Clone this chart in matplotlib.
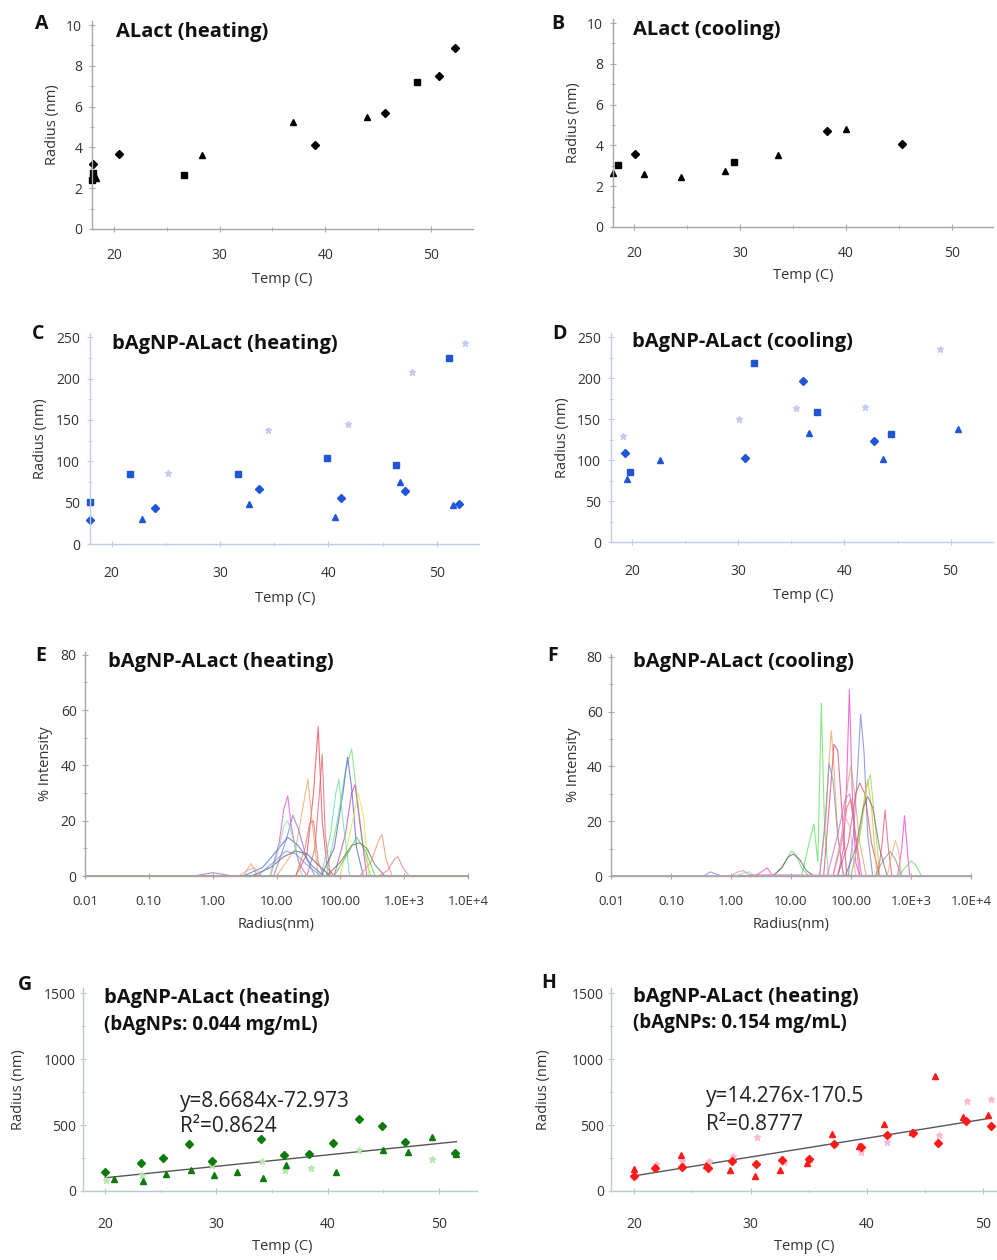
import numpy as np
import matplotlib.pyplot as plt
from matplotlib.ticker import MultipleLocator, FixedLocator, NullLocator

W, H = 997, 1260
plt.rcParams['font.family'] = ['Open Sans', 'DejaVu Sans']

# ---- A: ALact heating (nm vs temp)
A_dia_x = [17.95, 20.5, 39.0, 45.7, 50.8, 52.3]
A_dia_y = [3.18, 3.69, 4.13, 5.68, 7.50, 8.89]
A_sq_x = [17.95, 17.9, 26.65, 48.7]
A_sq_y = [2.77, 2.41, 2.63, 7.19]
A_tri_x = [18.3, 28.3, 36.9, 44.0]
A_tri_y = [2.5, 3.64, 5.24, 5.51]

# ---- B: ALact cooling
B_dia_x = [20.05, 38.2, 45.3]
B_dia_y = [3.56, 4.70, 4.07]
B_sq_x = [18.5, 29.4]
B_sq_y = [3.02, 3.18]
B_tri_x = [18.0, 20.9, 24.4, 28.6, 33.6, 40.0]
B_tri_y = [2.67, 2.59, 2.44, 2.75, 3.51, 4.82]

# ---- C: bAgNP-ALact heating
C_sq_x = [18.0, 21.7, 31.7, 39.9, 46.2, 51.1]
C_sq_y = [51, 84, 84, 104, 96, 225]
C_dia_x = [18.0, 24.0, 33.6, 41.2, 47.1, 52.1]
C_dia_y = [29, 43, 66, 56, 64, 48]
C_tri_x = [22.8, 32.7, 40.6, 46.6, 51.5]
C_tri_y = [30, 48, 33, 75, 47]
C_lt_x = [25.2, 34.4, 41.8, 47.7, 52.6]
C_lt_y = [86, 138, 145, 208, 243]

# ---- D: bAgNP-ALact cooling
D_dia_x = [19.3, 30.6, 36.1, 42.8]
D_dia_y = [108, 103, 196, 123]
D_sq_x = [19.8, 31.5, 37.4, 44.4]
D_sq_y = [86, 219, 159, 132]
D_tri_x = [19.5, 22.6, 36.7, 43.6, 50.7]
D_tri_y = [77, 100, 133, 101, 138]
D_lt_x = [19.15, 30.1, 35.4, 41.9, 49.0]
D_lt_y = [129, 150, 164, 165, 235]

# ---- E: size distributions, heating (radius nm, % intensity, colour)
E_curves = [
    ([0.01, 20, 30, 38, 45, 52, 62, 80, 1e4], [0, 0, 8, 30, 54, 20, 3, 0, 0], '#f04050'),
    ([0.01, 30, 40, 47, 52, 58, 70, 1e4], [0, 0, 10, 30, 44, 15, 0, 0], '#e06070'),
    ([0.01, 3, 4, 5, 10, 20, 26, 31, 36, 45, 1e4], [0, 0, 4.5, 0, 0, 10, 25, 35, 20, 0, 0], '#f0a060'),
    ([0.01, 8, 11, 13, 15, 17, 22, 30, 1e4], [0, 0, 12, 24, 29, 18, 5, 0, 0], '#e050e0'),
    ([0.01, 9, 12, 15, 18, 22, 30, 40, 1e4], [0, 0, 8, 15, 22, 17, 6, 0, 0], '#9070e0'),
    ([0.01, 60, 90, 120, 150, 180, 230, 300, 1e4], [0, 0, 20, 38, 46, 30, 10, 0, 0], '#70e070'),
    ([0.01, 50, 80, 110, 130, 150, 180, 230, 1e4], [0, 0, 10, 30, 43, 32, 10, 0, 0], '#5060e0'),
    ([0.01, 80, 120, 150, 170, 200, 260, 1e4], [0, 0, 15, 30, 33, 20, 0, 0], '#d040b0'),
    ([0.01, 100, 150, 190, 230, 280, 1e4], [0, 0, 18, 30, 22, 0, 0], '#e8e040'),
    ([0.01, 50, 70, 85, 95, 110, 140, 1e4], [0, 0, 15, 30, 35, 20, 0, 0], '#60e0b0'),
    ([0.01, 3, 6, 10, 15, 22, 35, 55, 80, 1e4], [0, 0, 3, 9, 14, 11, 4, 0, 0, 0], '#4070d0'),
    ([0.01, 4, 8, 13, 20, 30, 45, 70, 1e4], [0, 0, 3, 7, 9, 8, 4, 0, 0], '#506070'),
    ([0.01, 60, 100, 150, 200, 260, 350, 500, 1e4], [0, 0, 5, 11, 12, 10, 4, 0, 0], '#607060'),
    ([0.01, 200, 300, 400, 450, 520, 650, 1e4], [0, 0, 5, 13, 15, 6, 0, 0], '#f09060'),
    ([0.01, 400, 550, 700, 800, 950, 1200, 1e4], [0, 0, 2, 6, 7, 3, 0, 0], '#f07090'),
    ([0.01, 0.5, 0.8, 1.0, 1.3, 2, 1e4], [0, 0, 0.8, 1.2, 0.8, 0, 0], '#a060d0'),
    ([0.01, 8, 11, 13, 15, 19, 25, 1e4], [0, 0, 10, 18, 20, 12, 0, 0], '#80e0a0'),
    ([0.01, 20, 28, 33, 38, 45, 55, 1e4], [0, 0, 10, 19, 20, 5, 0, 0], '#e07070'),
    ([0.01, 5, 9, 14, 20, 30, 50, 1e4], [0, 0, 5, 9, 8, 4, 0, 0], '#7090f0'),
    ([0.01, 80, 130, 180, 250, 350, 1e4], [0, 0, 8, 14, 9, 0, 0], '#50c050'),
    ([0.01, 2.5, 3.5, 4.5, 6, 1e4], [0, 0, 2, 3, 0, 0], '#f0a0a0'),
]

# ---- F: size distributions, cooling
F_curves = [
    ([0.01, 15, 20, 24, 28, 32, 36, 42, 1e4], [0, 0, 12, 19, 5, 63, 20, 0, 0], '#60e060'),
    ([0.01, 60, 75, 85, 94, 105, 120, 140, 1e4], [0, 0, 10, 35, 68, 30, 5, 0, 0], '#f040c0'),
    ([0.01, 90, 110, 130, 145, 165, 190, 230, 1e4], [0, 0, 15, 40, 59, 45, 15, 0, 0], '#7080e0'),
    ([0.01, 30, 38, 43, 47, 52, 60, 75, 1e4], [0, 0, 20, 42, 53, 40, 15, 0, 0], '#f0a050'),
    ([0.01, 35, 45, 52, 60, 70, 85, 1e4], [0, 0, 30, 48, 46, 25, 0, 0], '#e04080'),
    ([0.01, 30, 37, 43, 50, 60, 75, 1e4], [0, 0, 20, 41, 35, 15, 0, 0], '#8090c0'),
    ([0.01, 50, 70, 90, 100, 115, 140, 180, 1e4], [0, 0, 15, 35, 40, 30, 12, 0, 0], '#d0a070'),
    ([0.01, 60, 90, 120, 140, 170, 220, 300, 1e4], [0, 0, 12, 30, 34, 30, 12, 0, 0], '#e05050'),
    ([0.01, 100, 140, 170, 190, 220, 270, 1e4], [0, 0, 15, 30, 35, 25, 0, 0], '#f0b040'),
    ([0.01, 100, 150, 180, 210, 250, 300, 1e4], [0, 0, 18, 32, 37, 20, 0, 0], '#90e050'),
    ([0.01, 80, 120, 160, 190, 230, 300, 400, 1e4], [0, 0, 10, 25, 29, 25, 10, 0, 0], '#707070'),
    ([0.01, 40, 60, 80, 95, 110, 140, 1e4], [0, 0, 15, 28, 30, 20, 0, 0], '#e060e0'),
    ([0.01, 50, 70, 85, 100, 120, 150, 1e4], [0, 0, 12, 25, 28, 15, 0, 0], '#f06060'),
    ([0.01, 5, 7, 9, 10, 12, 15, 20, 1e4], [0, 0, 3, 7, 9, 8, 3, 0, 0], '#70d070'),
    ([0.01, 5, 7, 9, 11, 14, 18, 24, 1e4], [0, 0, 3, 7, 8, 6, 2, 0, 0], '#606060'),
    ([0.01, 600, 700, 780, 850, 950, 1e4], [0, 0, 10, 22, 12, 0, 0], '#f040d0'),
    ([0.01, 280, 330, 370, 420, 480, 1e4], [0, 0, 12, 24, 10, 0, 0], '#f05070'),
    ([0.01, 400, 480, 550, 620, 700, 1e4], [0, 0, 8, 13, 9, 0, 0], '#f0b070'),
    ([0.01, 600, 800, 1000, 1200, 1500, 1e4], [0, 0, 3, 5.5, 4, 0, 0], '#60e060'),
    ([0.01, 250, 350, 450, 550, 700, 1e4], [0, 0, 6, 9, 6, 0, 0], '#909090'),
    ([0.01, 2.5, 3.5, 4, 5, 1e4], [0, 0, 2, 3, 0, 0], '#e050d0'),
    ([0.01, 1.0, 1.3, 1.6, 2.0, 1e4], [0, 0, 1.5, 2, 0.5, 0], '#f080c0'),
    ([0.01, 0.35, 0.45, 0.55, 0.7, 1e4], [0, 0, 1.5, 0.8, 0, 0], '#7080f0'),
    ([0.01, 1.2, 1.6, 2, 2.5, 1e4], [0, 0, 1, 1.5, 0, 0], '#80e080'),
    ([0.01, 50, 65, 80, 95, 120, 1e4], [0, 0, 10, 22, 18, 0, 0], '#f0a0e0'),
]
E_ticks = [0.01, 0.1, 1, 10, 100, 1e3, 1e4]
E_ticklabels = ['0.01', '0.10', '1.00', '10.00', '100.00', '1.0E+3', '1.0E+4']

# ---- G: bAgNP-ALact heating, 0.044 mg/mL
G_dia_x = [20.0, 23.2, 25.2, 27.5, 29.6, 34.0, 36.1, 38.3, 40.5, 42.8, 44.9, 47.0, 51.5]
G_dia_y = [142, 213, 251, 359, 225, 397, 271, 278, 362, 544, 496, 372, 286]
G_tri_x = [20.75, 23.4, 25.5, 27.7, 29.8, 31.9, 34.2, 36.3, 40.8, 45.0, 47.2, 49.4, 51.6]
G_tri_y = [91, 73, 127, 162, 119, 144, 96, 195, 144, 311, 299, 408, 278]
G_lt_x = [20.05, 23.3, 29.6, 34.1, 36.2, 38.5, 42.8, 49.4]
G_lt_y = [86, 122, 195, 230, 157, 175, 309, 240]
G_fit = (8.6684, -72.973)

# ---- H: bAgNP-ALact heating, 0.154 mg/mL
H_dia_x = [20.0, 21.75, 24.1, 26.3, 28.4, 30.5, 32.7, 35.0, 37.2, 39.5, 41.7, 44.0, 46.1, 48.5, 50.7]
H_dia_y = [111, 172, 182, 177, 230, 205, 238, 243, 359, 334, 425, 443, 365, 532, 494]
H_tri_x = [20.0, 24.0, 26.2, 28.2, 30.4, 32.5, 34.9, 37.0, 39.3, 41.5, 43.9, 45.9, 48.3, 50.4]
H_tri_y = [165, 271, 195, 157, 116, 162, 213, 435, 342, 511, 446, 876, 562, 575]
H_lt_x = [21.9, 24.1, 26.4, 28.5, 30.6, 32.9, 35.1, 39.5, 41.7, 46.2, 48.6, 50.7]
H_lt_y = [208, 228, 228, 266, 410, 220, 245, 294, 372, 425, 684, 701]
H_fit = (14.276, -170.5)

fig = plt.figure(figsize=(W / 100, H / 100), dpi=100)


def make_ax(l, t, r, b):
    return fig.add_axes([l / W, 1 - b / H, (r - l) / W, (b - t) / H])


def style(ax, col, xpad, ypad):
    for s in ['top', 'right']:
        ax.spines[s].set_visible(False)
    for s in ['left', 'bottom']:
        ax.spines[s].set_color(col)
        ax.spines[s].set_linewidth(1.0)
    ax.tick_params(which='both', colors=col, labelcolor='#333333', labelsize=10,
                   direction='inout')
    ax.tick_params(which='major', length=4)
    ax.tick_params(which='minor', length=3)
    ax.tick_params(axis='x', pad=xpad)
    ax.tick_params(axis='y', pad=ypad)
    ax.patch.set_alpha(0)


def labels(ax, xl, xl_y, yl, yl_x, xl_x=None):
    # xl_y / yl_x are the pixel centres of the axis labels
    ax.set_xlabel(xl, fontsize=10.5, color='#333333')
    ax.set_ylabel(yl, fontsize=10.5, color='#333333')
    pos = ax.get_position()
    if xl_x is None:
        xl_x = (pos.x0 + pos.x1) / 2 * W
    ax.xaxis.set_label_coords(xl_x / W, 1 - (xl_y - 8) / H, transform=fig.transFigure)
    ax.yaxis.set_label_coords((yl_x + 8) / W, (pos.y0 + pos.y1) / 2, transform=fig.transFigure)


def ftext(x, y, s, **kw):
    fig.text(x / W, 1 - y / H, s, va='center', **kw)


def temp_axis(ax):
    ax.xaxis.set_major_locator(MultipleLocator(10))
    ax.xaxis.set_minor_locator(MultipleLocator(5))


mk = dict(linestyle='none', clip_on=False)

# ---------- A
ax = make_ax(92, 21, 473, 229)
ax.plot(A_dia_x, A_dia_y, 'D', color='black', ms=4.5, **mk)
ax.plot(A_sq_x, A_sq_y, 's', color='black', ms=4.5, **mk)
ax.plot(A_tri_x, A_tri_y, '^', color='black', ms=4.5, **mk)
ax.set_xlim(17.9, 54)
ax.set_ylim(0, 10.2)
temp_axis(ax)
ax.yaxis.set_major_locator(MultipleLocator(2))
ax.yaxis.set_minor_locator(MultipleLocator(1))
style(ax, '#a8a8a8', 12, 5)
labels(ax, 'Temp (C)', 280, 'Radius (nm)', 52, xl_x=282)

# ---------- B
ax = make_ax(613, 19, 993, 227)
ax.plot(B_dia_x, B_dia_y, 'D', color='black', ms=4.5, **mk)
ax.plot(B_sq_x, B_sq_y, 's', color='black', ms=4.5, **mk)
ax.plot(B_tri_x, B_tri_y, '^', color='black', ms=4.5, **mk)
ax.set_xlim(18.0, 53.9)
ax.set_ylim(0, 10.2)
temp_axis(ax)
ax.yaxis.set_major_locator(MultipleLocator(2))
ax.yaxis.set_minor_locator(MultipleLocator(1))
style(ax, '#a8a8a8', 12, 5)
labels(ax, 'Temp (C)', 276, 'Radius (nm)', 573, xl_x=803)

blue = '#1f55d6'
light_blue = '#c4c8f4'
# ---------- C
ax = make_ax(90, 333, 479, 544)
ax.plot(C_sq_x, C_sq_y, 's', color=blue, ms=4.5, **mk)
ax.plot(C_dia_x, C_dia_y, 'D', color=blue, ms=4.5, **mk)
ax.plot(C_tri_x, C_tri_y, '^', color=blue, ms=4.5, **mk)
ax.plot(C_lt_x, C_lt_y, '*', color=light_blue, ms=5, **mk)
ax.set_xlim(18.0, 53.9)
ax.set_ylim(0, 255)
temp_axis(ax)
ax.yaxis.set_major_locator(MultipleLocator(50))
ax.yaxis.set_minor_locator(MultipleLocator(25))
style(ax, '#c0cce8', 14, 5)
labels(ax, 'Temp (C)', 599, 'Radius (nm)', 40, xl_x=285)

# ---------- D
ax = make_ax(611, 333, 993, 542)
ax.plot(D_dia_x, D_dia_y, 'D', color=blue, ms=4.5, **mk)
ax.plot(D_sq_x, D_sq_y, 's', color=blue, ms=4.5, **mk)
ax.plot(D_tri_x, D_tri_y, '^', color=blue, ms=4.5, **mk)
ax.plot(D_lt_x, D_lt_y, '*', color=light_blue, ms=5, **mk)
ax.set_xlim(18.0, 54.0)
ax.set_ylim(0, 255)
temp_axis(ax)
ax.yaxis.set_major_locator(MultipleLocator(50))
ax.yaxis.set_minor_locator(MultipleLocator(25))
style(ax, '#c0cce8', 14, 5)
labels(ax, 'Temp (C)', 596, 'Radius (nm)', 562, xl_x=803)


def dist_panel(box, curves, ylx, xlx):
    ax = make_ax(*box)
    for xs, ys, c in curves:
        ax.plot(xs, ys, color=c, lw=0.8, alpha=0.75)
    ax.set_xscale('log')
    ax.set_xlim(0.01, 1e4)
    ax.set_ylim(0, 81)
    ax.xaxis.set_major_locator(FixedLocator(E_ticks))
    ax.xaxis.set_minor_locator(NullLocator())
    ax.set_xticklabels(E_ticklabels)
    ax.yaxis.set_major_locator(MultipleLocator(20))
    ax.yaxis.set_minor_locator(MultipleLocator(10))
    style(ax, '#a8a8a8', 12, 4)
    ax.tick_params(axis='x', labelsize=9.5)
    labels(ax, 'Radius(nm)', 925, '% Intensity', ylx, xl_x=xlx)
    return ax


dist_panel((85, 652, 468, 876), E_curves, 45, 276)
dist_panel((611, 654, 971, 876), F_curves, 573, 791)


def fit_panel(box, dx, dy, tx, ty, lx, ly, fit, dcol, lcol, xmax, ylx, xlx):
    ax = make_ax(*box)
    xs = np.array([min(dx + tx), max(dx + tx)])
    ax.plot(xs, fit[0] * xs + fit[1], color='#555555', lw=1.0, zorder=1)
    ax.plot(lx, ly, '*', color=lcol, ms=5, **mk)
    ax.plot(dx, dy, 'D', color=dcol, ms=4.5, **mk)
    ax.plot(tx, ty, '^', color=dcol, ms=4.5, **mk)
    ax.set_xlim(18.0, xmax)
    ax.set_ylim(0, 1540)
    temp_axis(ax)
    ax.yaxis.set_major_locator(MultipleLocator(500))
    ax.yaxis.set_minor_locator(MultipleLocator(250))
    style(ax, '#b8c8d0', 17, 3)
    labels(ax, 'Temp (C)', 1247, 'Radius (nm)', ylx, xl_x=xlx)
    return ax


ax = fit_panel((83, 988, 477, 1191), G_dia_x, G_dia_y, G_tri_x, G_tri_y, G_lt_x, G_lt_y,
               G_fit, '#0d7a0d', '#b8e4b0', 53.45, 18, 282)
ax.text(26.7, 676, 'y=8.6684x-72.973', fontsize=15, va='center', color='#222222')
ax.text(26.7, 490, 'R²=0.8624', fontsize=15, va='center', color='#222222')

ax = fit_panel((611, 988, 997, 1191), H_dia_x, H_dia_y, H_tri_x, H_tri_y, H_lt_x, H_lt_y,
               H_fit, '#ff1a1a', '#ffb8d0', 51.2, 543, 804)
ax.text(26.2, 719, 'y=14.276x-170.5', fontsize=15, va='center', color='#222222')
ax.text(26.2, 506, 'R²=0.8777', fontsize=15, va='center', color='#222222')

# panel titles and letters
tkw = dict(fontsize=14.5, fontweight='bold', color='#111111')
skw = dict(fontsize=13.5, fontweight='bold', color='#111111')
ftext(116, 32, 'ALact (heating)', **tkw)
ftext(633, 30, 'ALact (cooling)', **tkw)
ftext(112, 344, 'bAgNP-ALact (heating)', **tkw)
ftext(632, 342, 'bAgNP-ALact (cooling)', **tkw)
ftext(108, 662, 'bAgNP-ALact (heating)', **tkw)
ftext(633, 662, 'bAgNP-ALact (cooling)', **tkw)
ftext(104, 998, 'bAgNP-ALact (heating)', **tkw)
ftext(104, 1025, '(bAgNPs: 0.044 mg/mL)', **skw)
ftext(633, 997, 'bAgNP-ALact (heating)', **tkw)
ftext(633, 1023, '(bAgNPs: 0.154 mg/mL)', **skw)

lkw = dict(fontsize=14, fontweight='bold', color='#111111', ha='center')
for (x, y), s in zip([(42, 24), (558, 24), (38, 334), (559, 334),
                      (41, 656), (553, 656), (25, 985), (549, 983)], 'ABCDEFGH'):
    ftext(x, y, s, **lkw)

fig.savefig('out.png', dpi=100)
